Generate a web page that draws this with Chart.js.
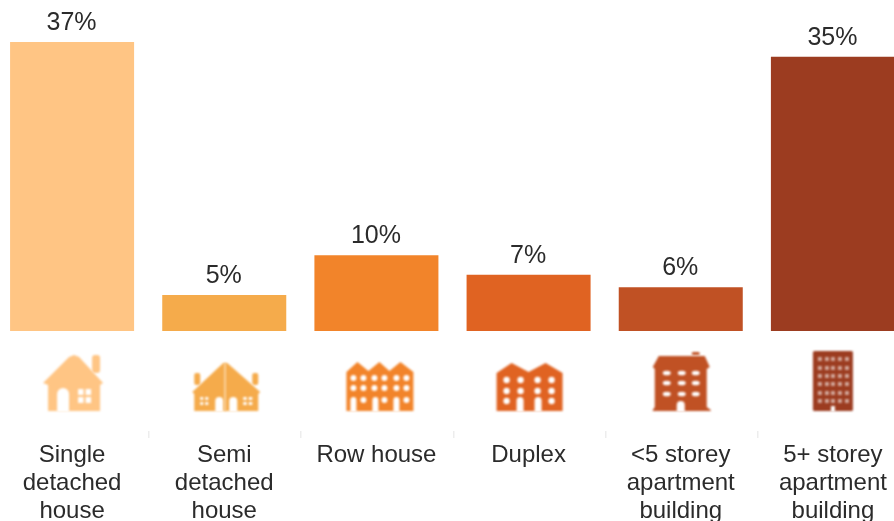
<!DOCTYPE html>
<html>
<head>
<meta charset="utf-8">
<style>
html,body{margin:0;padding:0;background:#fff;width:894px;height:521px;overflow:hidden}
canvas{display:block;position:absolute;left:-4px;top:0}
</style>
<script src="https://cdn.jsdelivr.net/npm/chart.js@4"></script>
</head>
<body>
<canvas id="c" width="913" height="521"></canvas>
<script>
const categories = [["Single","detached","house"],["Semi","detached","house"],["Row house"],["Duplex"],["<5 storey","apartment","building"],["5+ storey","apartment","building"]];
const values = [37, 4.6, 9.7, 7.2, 5.6, 35.1];
const valueLabels = ["37%","5%","10%","7%","6%","35%"];
const barColors = ["#FFC584","#F5AB4B","#F2842A","#E06322","#C05124","#9C3C20"];
const axisMax = 42.38;

const poly = (ctx, pts) => { ctx.beginPath(); pts.forEach((p,i)=> i?ctx.lineTo(p[0],p[1]):ctx.moveTo(p[0],p[1])); ctx.closePath(); ctx.fill(); };
const dots = (ctx, cols, rows, r) => { cols.forEach(x=>rows.forEach(y=>{ctx.beginPath();ctx.arc(x,y,r,0,7);ctx.fill();})); };
const doorShape = (ctx,a,b,top) => { const r=(b-a)/2; ctx.beginPath(); ctx.moveTo(a,1); ctx.lineTo(a,top+r); ctx.arc(a+r,top+r,r,Math.PI,0); ctx.lineTo(b,1); ctx.closePath(); ctx.fill(); };
const panes = (ctx,x,y,w,h) => { const pw=(w-2)/2, ph=(h-2)/2; [0,1].forEach(i=>[0,1].forEach(j=>ctx.fillRect(x+i*(pw+2),y+j*(ph+2),pw,ph))); };

const icons = [
 (ctx,col)=>{ ctx.fillStyle=col;
   poly(ctx,[[-29,-28],[-3,-54],[2,-56],[7,-54],[31,-28],[28,-26],[28,0],[-24,0],[-24,-26]]);
   ctx.beginPath(); ctx.roundRect(20,-56,8,18,3); ctx.fill();
   ctx.fillStyle="#fff"; doorShape(ctx,-15,-3,-23); panes(ctx,6,-22,13,14); },
 (ctx,col)=>{ ctx.fillStyle=col;
   poly(ctx,[[-32,-19],[-1,-48],[3,-48],[36,-19],[34,-17],[34,0],[-30,0],[-30,-17]]);
   ctx.beginPath(); ctx.roundRect(-30,-38,6,12,2); ctx.roundRect(28,-38,6,12,2); ctx.fill();
   ctx.fillStyle="#fff"; doorShape(ctx,-9,-1,-14); doorShape(ctx,5,13,-14); panes(ctx,-24,-14,8,8); panes(ctx,19,-14,9,8);
   ctx.fillStyle="#FBD9AC"; ctx.fillRect(0,-48,1.6,48); },
 (ctx,col)=>{ ctx.fillStyle=col;
   poly(ctx,[[-30,-39],[-19,-49],[-8,-40],[3,-49],[13,-40],[24,-49],[37,-39],[37,0],[-30,0]]);
   ctx.fillStyle="#fff"; dots(ctx,[-23,-13,-2,8,20,30],[-33,-23],3); dots(ctx,[-13,8,30],[-11],3);
   doorShape(ctx,-26,-20,-14); doorShape(ctx,-4,2,-14); doorShape(ctx,17,23,-14); },
 (ctx,col)=>{ ctx.fillStyle=col;
   poly(ctx,[[-32,-38],[-17,-48],[0,-39],[17,-48],[34,-38],[34,0],[-32,0]]);
   ctx.fillStyle="#fff"; dots(ctx,[-22,-8,9,23],[-31,-20],3.2); dots(ctx,[-22,23],[-10],3.2);
   doorShape(ctx,-12,-5,-14); doorShape(ctx,6,13,-14); },
 (ctx,col)=>{ ctx.fillStyle=col;
   poly(ctx,[[-22,-55],[24,-55],[29,-44],[26,-42],[26,-4],[30,-1],[30,0],[-28,0],[-28,-1],[-26,-4],[-26,-42],[-28,-44]]);
   ctx.beginPath(); ctx.roundRect(11,-59,8,3,1.5); ctx.fill();
   ctx.fillStyle="#fff";
   [-14,1,15].forEach(x=>[-38,-28,-17].forEach(y=>{ctx.beginPath();ctx.ellipse(x,y,4,2.3,0,0,7);ctx.fill();}));
   doorShape(ctx,-4,4,-10); },
 (ctx,col)=>{ ctx.fillStyle=col;
   ctx.beginPath(); ctx.roundRect(-20,-60,40,60,1.5); ctx.fill();
   ctx.fillStyle="rgba(255,255,255,0.55)";
   [-13,-6,0,7,14].forEach(x=>[-52,-43,-35,-27,-18,-10].forEach(y=>ctx.fillRect(x-2,y-2,4,4)));
   ctx.fillStyle="#fff"; ctx.fillRect(-2,-5,4,6); }
];

const decorations = {
  id:"decorations",
  afterDraw(chart){
    const ctx=chart.ctx, xs=chart.scales.x, base=chart.chartArea.bottom;
    ctx.save();
    ctx.fillStyle="#2B2B2B"; ctx.font="25px 'Liberation Sans'"; ctx.textAlign="center"; ctx.textBaseline="middle";
    chart.getDatasetMeta(0).data.forEach((bar,i)=>ctx.fillText(valueLabels[i],bar.x-0.5,bar.y-19));
    ctx.fillStyle="#EDEDED";
    const step=xs.getPixelForValue(1)-xs.getPixelForValue(0);
    for(let i=0;i<categories.length-1;i++){ ctx.fillRect(Math.round(xs.getPixelForValue(i)+step/2),base+100,1.5,7); }
    ctx.filter="blur(0.8px)";
    icons.forEach((draw,i)=>{ ctx.save(); ctx.translate(xs.getPixelForValue(i),base+80); draw(ctx,barColors[i]); ctx.restore(); });
    ctx.restore();
  }
};

new Chart(document.getElementById("c"),{
  type:"bar",
  data:{labels:categories,datasets:[{data:values,backgroundColor:barColors,borderWidth:0,barPercentage:0.815,categoryPercentage:1}]},
  options:{
    responsive:false,animation:false,
    layout:{padding:0},
    plugins:{legend:{display:false},tooltip:{enabled:false},title:{display:false}},
    scales:{
      y:{display:false,min:0,max:axisMax},
      x:{
        afterFit(s){s.height=190;s.paddingLeft=0;s.paddingRight=0;},
        border:{display:false},
        grid:{display:false},
        ticks:{autoSkip:false,maxRotation:0,minRotation:0,padding:102,color:"#2B2B2B",font:{family:"'Liberation Sans'",size:24,lineHeight:"28.3px"}}
      }
    }
  },
  plugins:[decorations]
});
</script>
</body>
</html>
